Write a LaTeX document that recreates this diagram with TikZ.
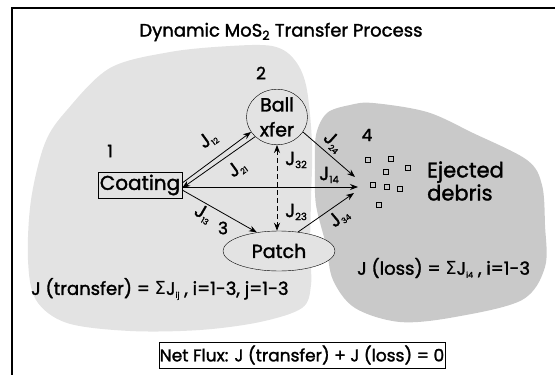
\documentclass[tikz,border=0pt]{standalone}
\usepackage{fontspec}
\setmainfont{Poppins}[FakeBold=1.6]
\newfontfamily\symfont{DejaVu Sans}
\usetikzlibrary{shapes.geometric,arrows.meta}
\definecolor{lightblob}{gray}{0.89}
\definecolor{darkblob}{gray}{0.79}
\newcommand{\Jbig}[1]{J\raisebox{-3pt}{\fontsize{10}{10}\selectfont #1}}
\newcommand{\Jsmall}[1]{J\raisebox{-3pt}{\fontsize{8}{8}\selectfont #1}}
\tikzset{
  flux/.style={-{Stealth[length=8pt,width=6pt]},line width=0.8pt},
  jlab/.style={font=\fontsize{19}{19}\selectfont,inner sep=0pt},
  num/.style={font=\fontsize{17}{17}\selectfont,inner sep=1pt},
  txt/.style={font=\fontsize{19}{25}\selectfont},
  eqn/.style={font=\fontsize{18}{20}\selectfont,inner sep=1pt},
}
\begin{document}
\begin{tikzpicture}[x=1pt,y=-1pt]
\useasboundingbox (0,0) rectangle (555,375);
\fill[lightblob] plot[smooth cycle,tension=0.55] coordinates {(28,260) (31,200) (45,143) (67,110) (110,68) (170,52) (230,46) (272,46) (293,58) (306,85) (312,143) (311,200) (310,250) (311,285) (302,308) (260,322) (200,330) (130,331) (67,323) (36,300)};
\fill[darkblob] plot[smooth cycle,tension=0.55] coordinates {(316,135) (327,113) (350,105) (373,103) (427,112) (473,133) (527,160) (542,185) (545,225) (545,267) (522,300) (455,317) (400,322) (355,308) (333,280) (326,245) (316,205) (315,170)};
\draw[line width=1.2pt] (12,375) -- (12,8) -- (555,8);
\node[font=\fontsize{18}{20}\selectfont] (title) at (281,32) {Dynamic MoS\textsubscript{2} Transfer Process};
\node[draw,fill=lightblob,font=\fontsize{20}{22}\selectfont,minimum width=84pt,minimum height=26pt,inner sep=1pt] (coat) at (140,185) {Coating};
\node[draw,ellipse,fill=lightblob,txt,minimum width=61pt,minimum height=50pt,inner sep=0pt,align=center] (ball) at (277,117) {Ball\\xfer};
\node[draw,ellipse,fill=lightblob,txt,minimum width=112pt,minimum height=40pt,inner sep=0pt] (patch) at (279,251) {Patch};
\coordinate (deb) at (358,187);
\node[num] (n1) at (110,151) {1};
\node[num] (n2) at (261,73) {2};
\node[num] (n3) at (223,228) {3};
\node[num] (n4) at (367,135) {4};
\draw[flux] ([yshift=2pt]coat.east) -- (ball.210);
\draw[flux] (ball.222) -- ([yshift=-3pt]coat.east);
\draw[flux] ([yshift=-2pt]coat.east) -- (deb);
\draw[flux] ([yshift=-5pt]coat.east) -- (patch.140);
\draw[flux,dash pattern=on 5pt off 3pt,{Stealth[length=8pt,width=6pt]}-{Stealth[length=8pt,width=6pt]}] (ball.south) -- (ball.south |- patch.north);
\draw[flux] (ball.-30) -- ([xshift=-3pt,yshift=10pt]deb);
\draw[flux] (patch.45) -- ([xshift=-4pt,yshift=-6pt]deb);
\node[jlab,rotate=36] (j12) at (208,140) {\Jsmall{12}};
\node[jlab,rotate=36] (j21) at (237,169) {\Jsmall{21}};
\node[jlab,rotate=-30] (j13) at (203,214) {\Jsmall{13}};
\node[jlab] (j32) at (296,160) {\Jbig{32}};
\node[jlab] (j23) at (296,212) {\Jbig{23}};
\node[jlab,rotate=-42] (j24) at (333,142) {\Jsmall{24}};
\node[jlab] (j14) at (329,175) {\Jbig{14}};
\node[jlab,rotate=40] (j34) at (339,218) {\Jsmall{34}};
\foreach \x/\y in {368/160,391/159,386/172,408/168,373/185,387/187,400/189,379/205}
  \draw[line width=0.9pt] (\x-2.5,\y-2.5) rectangle (\x+2.5,\y+2.5);
\node[font=\fontsize{21}{23}\selectfont,align=left,anchor=west,inner sep=0pt] (ejected) at (427,181) {Ejected\\debris};
\node[eqn,anchor=west] (transfer) at (30,289) {J (transfer) = {\symfont Σ}\Jsmall{ij} , i=1-3, j=1-3};
\node[eqn,anchor=west] (loss) at (356,268) {J (loss) = {\symfont Σ}\Jsmall{i4} , i=1-3};
\node[draw,font=\fontsize{17}{19}\selectfont,minimum width=282pt,minimum height=26pt,inner sep=1pt] (net) at (302,355) {Net Flux: J (transfer) + J (loss) = 0};
\end{tikzpicture}
\end{document}
